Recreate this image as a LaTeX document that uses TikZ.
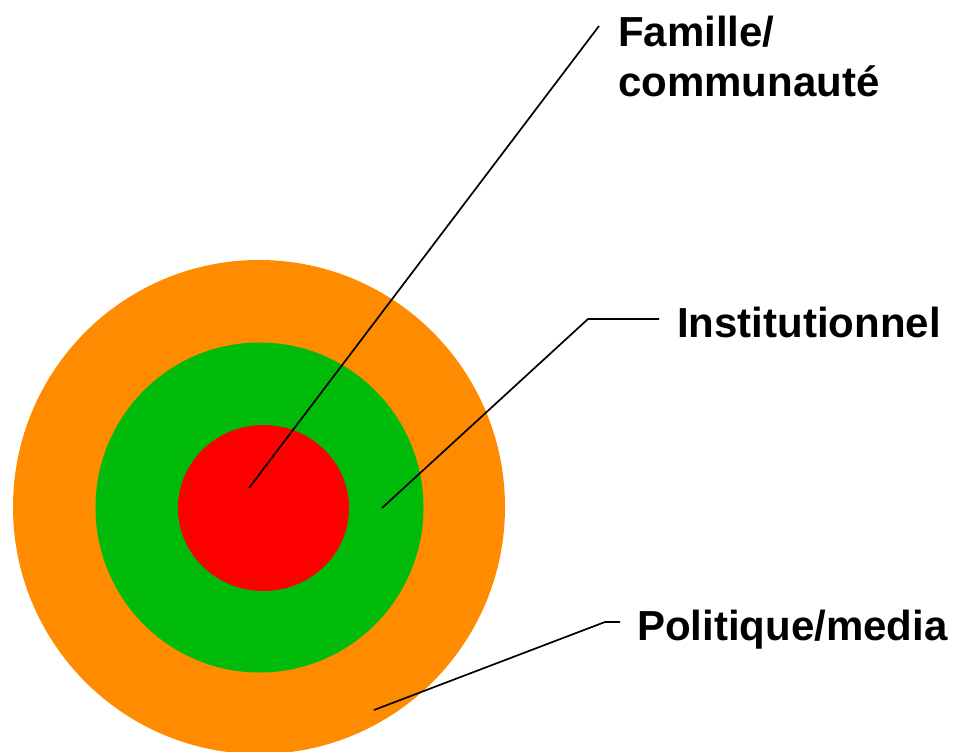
\documentclass[tikz,border=0pt]{standalone}
\usepackage{fontspec}
\setmainfont{Liberation Sans}
\usetikzlibrary{shapes.geometric}
\definecolor{ringorange}{RGB}{255,140,0}
\definecolor{ringgreen}{RGB}{0,187,10}
\definecolor{ringred}{RGB}{255,0,0}
\tikzset{
  ring/.style={ellipse,inner sep=0pt,draw=none},
  tag/.style={inner sep=0pt,anchor=base west,align=left,font=\fontsize{42}{51}\selectfont\bfseries},
  leader/.style={draw=black,line width=1.7pt},
}

\begin{document}
\begin{tikzpicture}[x=1pt,y=-1pt]
  \useasboundingbox (0,0) rectangle (954,752);
  \node[ring,fill=ringorange,minimum width=492pt,minimum height=494pt] (politique) at (259,507) {};
  \node[ring,fill=ringgreen,minimum width=328pt,minimum height=330pt] (institution) at (259.5,507.5) {};
  \node[ring,fill=ringred,minimum width=171pt,minimum height=166pt] (famille) at (263.5,508) {};

  \node[tag] (familletag) at (618,97) {Famille/\\communauté};
  \node[tag] (institutiontag) at (677,337) {Institutionnel};
  \node[tag] (politiquetag) at (637,640) {Politique/media};

  \coordinate (famillein) at (249,488);
  \coordinate (familleout) at (599,26);
  \coordinate (institutionin) at (382,508);
  \coordinate (institutionbend) at (588,319);
  \coordinate (institutionout) at (659,319);
  \coordinate (politiquein) at (374,710);
  \coordinate (politiquebend) at (605,622);
  \coordinate (politiqueout) at (620,622);

  \draw[leader] (famillein) -- (familleout);
  \draw[leader] (institutionin) -- (institutionbend) -- (institutionout);
  \draw[leader] (politiquein) -- (politiquebend) -- (politiqueout);
\end{tikzpicture}
\end{document}
